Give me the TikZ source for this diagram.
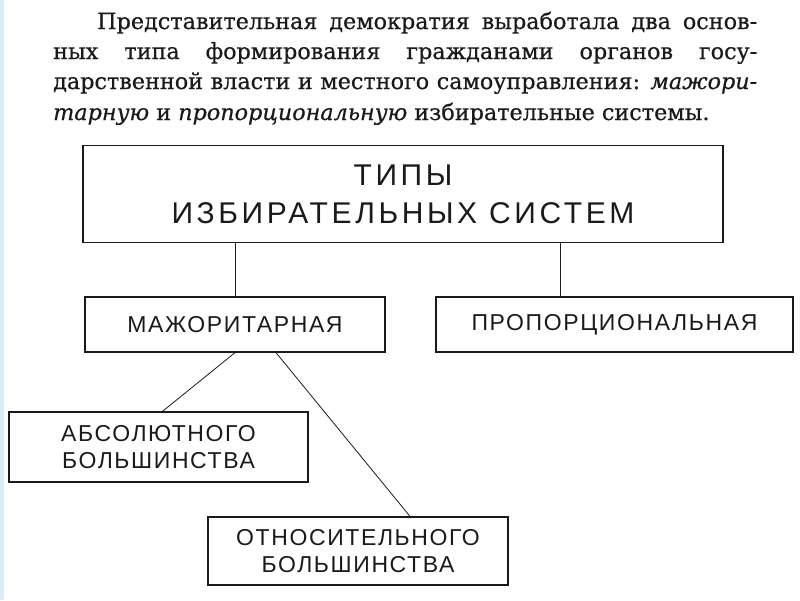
\documentclass[tikz,border=0pt]{standalone}
\usepackage{fontspec}
\setmainfont{DejaVu Serif}[FakeBold=0.6]
\newfontfamily\boxfont{Liberation Sans}[LetterSpace=7]
\newfontfamily\titlefont{Liberation Sans}[LetterSpace=12]
\definecolor{strip}{HTML}{DCECF5}
\definecolor{ink}{HTML}{1A1A1A}
\begin{document}
\begin{tikzpicture}[x=1pt,y=-1pt,
  para/.style={anchor=base west, inner sep=0pt, text=ink},
  box/.style={draw=ink, line width=1.3pt, inner sep=0pt, align=center, text=ink},
  small/.style={box, font=\boxfont\fontsize{23}{27}\selectfont},
  conn/.style={draw=ink, line width=0.8pt}]
\useasboundingbox (0,0) rectangle (800,600);
\fill[strip] (0,0) rectangle (4,600);
% paragraph
\node[para] (p1) at (97,29) {\fontsize{22.3}{28}\selectfont\makebox[660pt][s]{Представительная демократия выработала два основ-}};
\node[para] (p2) at (53,59) {\fontsize{22.3}{28}\selectfont\makebox[704pt][s]{ных типа формирования гражданами органов госу-}};
\node[para] (p3) at (53,89) {\fontsize{22.3}{28}\selectfont\makebox[704pt][s]{дарственной власти и местного самоуправления: \textit{мажори-}}};
\node[para] (p4) at (53,120) {\fontsize{22.3}{28}\selectfont\textit{тарную} и \textit{пропорциональную} избирательные системы.};
% boxes
\node[box, line width=1.6pt, minimum width=640pt, minimum height=97pt,
      font=\titlefont\fontsize{30}{38}\selectfont] (t) at (403,194) {ТИПЫ\\ИЗБИРАТЕЛЬНЫХ СИСТЕМ};
\node[small, minimum width=300pt, minimum height=55pt] (maj) at (235,324.5) {МАЖОРИТАРНАЯ};
\node[small, minimum width=357pt, minimum height=55pt] (prop) at (614.5,324.5) {ПРОПОРЦИОНАЛЬНАЯ};
\node[small, minimum width=299pt, minimum height=70pt] (abs) at (158.5,447) {АБСОЛЮТНОГО\\БОЛЬШИНСТВА};
\node[small, minimum width=300pt, minimum height=68pt] (otn) at (358,551) {ОТНОСИТЕЛЬНОГО\\БОЛЬШИНСТВА};
% connectors
\coordinate (propin) at ([xshift=-54.5pt]prop.north);
\draw[conn] (t.south -| maj.north) -- (maj.north);
\draw[conn] (t.south -| propin) -- (propin);
\draw[conn] (maj.south) -- ([xshift=4pt]abs.north);
\draw[conn] ([xshift=41pt]maj.south) -- ([xshift=52pt]otn.north);
\end{tikzpicture}
\end{document}
